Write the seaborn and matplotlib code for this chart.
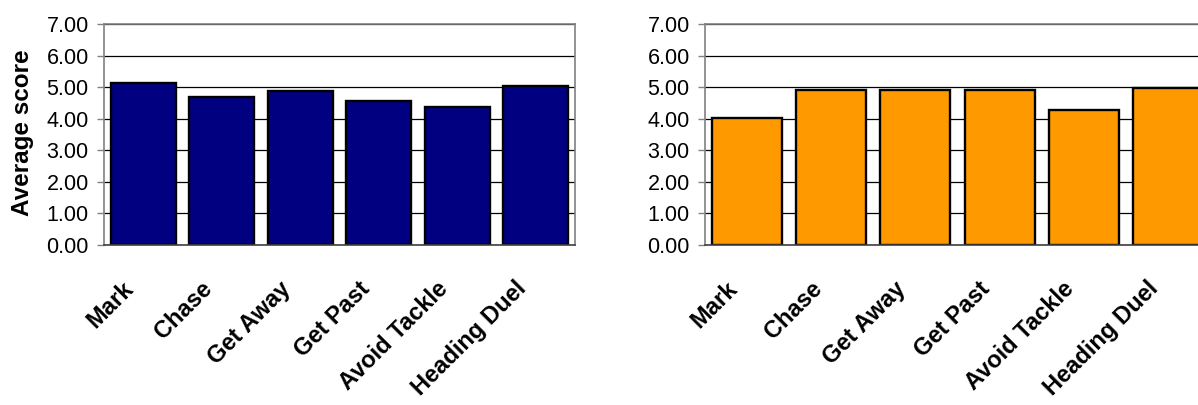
import numpy as np
import pandas as pd
import matplotlib
matplotlib.use("Agg")
import matplotlib.pyplot as plt
import matplotlib.transforms as mtrans
import seaborn as sns

# data
categories = ["Mark", "Chase", "Get Away", "Get Past", "Avoid Tackle", "Heading Duel"]
left_scores = [5.12, 4.68, 4.89, 4.57, 4.36, 5.05]
right_scores = [4.03, 4.91, 4.91, 4.91, 4.29, 4.97]
y_ticks = [0, 1, 2, 3, 4, 5, 6, 7]

sns.set_style("white")
plt.rcParams["font.family"] = ["Liberation Sans", "DejaVu Sans"]
plt.rcParams["text.color"] = "black"
plt.rcParams["axes.labelcolor"] = "black"

W, H = 1198, 405
fig = plt.figure(figsize=(W / 100, H / 100), dpi=100)

def px_axes(x0, x1, y0, y1):
    # pixel box -> figure fraction
    return fig.add_axes([x0 / W, 1 - y1 / H, (x1 - x0) / W, (y1 - y0) / H])

ax1 = px_axes(104, 575, 24, 245)
ax2 = px_axes(705, 1210, 24, 245)


def style_panel(ax, scores, color, ylabel=None):
    df = pd.DataFrame({"cat": categories, "score": scores})
    sns.barplot(data=df, x="cat", y="score", color=color, saturation=1,
                edgecolor="black", linewidth=1.7, width=0.83, ax=ax)
    ax.set_ylim(0, 7)
    ax.set_xlim(-0.5, len(categories) - 0.5)
    ax.set_yticks(y_ticks)
    ax.set_yticklabels([f"{v:.2f}" for v in y_ticks], fontsize=15.5)
    ax.set_axisbelow(True)
    ax.yaxis.grid(True, color="black", linewidth=0.9)
    ax.set_xticks(range(len(categories)))
    ax.set_xticks(np.arange(-0.5, len(categories)), minor=True)
    ax.tick_params(axis="x", which="major", length=0, pad=23, labelcolor="black")
    ax.tick_params(axis="x", which="minor", length=6, color="#808080", width=1)
    ax.tick_params(axis="y", length=5, color="#808080", width=1, pad=6, left=True,
                   labelcolor="black")
    ax.set_xticklabels(categories, rotation=45, ha="right",
                       rotation_mode="anchor", fontweight="bold", fontsize=17)
    # nudge the slanted labels left, like excel does
    shift = mtrans.ScaledTranslation(-21 / 100, 0, fig.dpi_scale_trans)
    for lab in ax.get_xticklabels():
        lab.set_transform(lab.get_transform() + shift)
    for s in ["top", "right", "left"]:
        ax.spines[s].set_color("#808080")
        ax.spines[s].set_linewidth(1.2)
    ax.spines["bottom"].set_color("#404040")
    ax.spines["bottom"].set_linewidth(1.2)
    ax.set_xlabel("")
    if ylabel:
        ax.set_ylabel(ylabel, fontweight="bold", fontsize=17.5, va="center")
        ax.yaxis.set_label_coords(-0.172, 0.509)
    else:
        ax.set_ylabel("")


style_panel(ax1, left_scores, "#000080", "Average score")
style_panel(ax2, right_scores, "#FF9900")

fig.savefig("out.png", dpi=100)
